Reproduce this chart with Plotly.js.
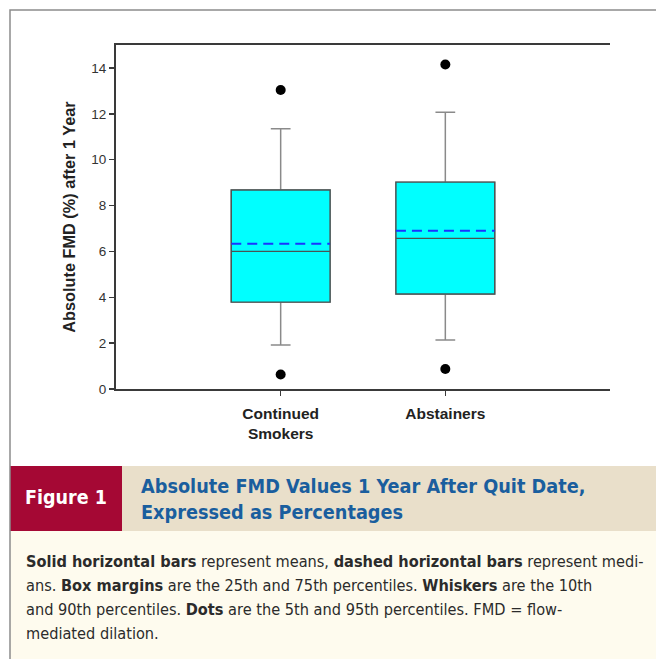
<!DOCTYPE html>
<html>
<head>
<meta charset="utf-8">
<script src="https://cdn.plot.ly/plotly-3.0.1.min.js"></script>
<style>
  html, body { margin: 0; padding: 0; background: #ffffff; }
  #chart { width: 656px; height: 659px; }
</style>
</head>
<body>
<div id="chart"></div>
<script>
// ---- data ----
const groups = ['Continued<br>Smokers', 'Abstainers'];
const q1 = [3.79, 4.14];          // 25th percentile (box bottom)
const q3 = [8.68, 9.02];          // 75th percentile (box top)
const solidBar = [6.00, 6.57];    // solid horizontal bar
const dashedBar = [6.33, 6.90];   // dashed horizontal bar
const p10 = [1.92, 2.14];         // lower whisker
const p90 = [11.35, 12.07];       // upper whisker
const p5 = [0.63, 0.87];          // lower dot
const p95 = [13.04, 14.15];       // upper dot
const yTicks = [0, 2, 4, 6, 8, 10, 12, 14];

const captionTitle = 'Absolute FMD Values 1 Year After Quit Date,<br>Expressed as Percentages';
const captionLines = [
  '<b>Solid horizontal bars</b> represent means, <b>dashed horizontal bars</b> represent medi-',
  'ans. <b>Box margins</b> are the 25th and 75th percentiles. <b>Whiskers</b> are the 10th',
  'and 90th percentiles. <b>Dots</b> are the 5th and 95th percentiles. FMD = flow-',
  'mediated dilation.'
];

// ---- layout geometry (pixels) ----
const W = 656, H = 659;
const L = 116, R = 610, T = 45, B = 389;
const xp = px => (px - L) / (R - L);
const yp = py => (B - py) / (B - T);
const pos = groups.map((g, i) => i + 1);
const BOXW = 0.6;

const traces = [];
// whiskers layer (gray)
traces.push({
  type: 'box', x: pos, q1: q1, median: solidBar, q3: q3,
  lowerfence: p10, upperfence: p90,
  width: BOXW, whiskerwidth: 0.2, boxpoints: false,
  fillcolor: '#00FFFF', line: { color: '#8a8a8a', width: 1.5 },
  hoverinfo: 'skip'
});
// box body layer (darker outline), fences collapsed onto box
traces.push({
  type: 'box', x: pos, q1: q1, median: solidBar, q3: q3,
  lowerfence: q1, upperfence: q3,
  width: BOXW, whiskerwidth: 0, boxpoints: false,
  fillcolor: '#00FFFF', line: { color: '#4a5454', width: 1.4 },
  hoverinfo: 'skip'
});
// dashed bars
const dx = [], dy = [];
pos.forEach((p, i) => { dx.push(p - BOXW / 2, p + BOXW / 2, null); dy.push(dashedBar[i], dashedBar[i], null); });
traces.push({
  type: 'scatter', mode: 'lines', x: dx, y: dy,
  line: { color: '#1a35ff', width: 2, dash: '10px,6px' }, hoverinfo: 'skip'
});
// dots
traces.push({
  type: 'scatter', mode: 'markers',
  x: pos.concat(pos), y: p5.concat(p95),
  marker: { color: '#000000', size: 10 }, hoverinfo: 'skip'
});

const shapes = [
  { type: 'rect', xref: 'paper', yref: 'paper', x0: xp(10), x1: xp(122), y0: yp(466), y1: yp(531),
    fillcolor: '#A50834', line: { width: 0 } },
  { type: 'rect', xref: 'paper', yref: 'paper', x0: xp(122), x1: xp(700), y0: yp(466), y1: yp(531),
    fillcolor: '#E9DFCA', line: { width: 0 } },
  { type: 'rect', xref: 'paper', yref: 'paper', x0: xp(10), x1: xp(700), y0: yp(531), y1: yp(700),
    fillcolor: '#FEFBEE', line: { width: 0 } },
  { type: 'rect', xref: 'paper', yref: 'paper', x0: xp(10), x1: xp(720), y0: yp(10), y1: yp(720),
    fillcolor: 'rgba(0,0,0,0)', line: { color: '#8c8c8c', width: 1.5 } }
];

const narrow = '"Liberation Sans Narrow", "Arial Narrow", "DejaVu Sans Condensed", "Roboto Condensed", "Liberation Sans", Arial, sans-serif';
const annotations = [
  { xref: 'paper', yref: 'paper', x: xp(66), y: yp(498), xanchor: 'center', yanchor: 'middle',
    text: '<b>Figure 1</b>', showarrow: false, font: { family: narrow, size: 19.5, color: '#ffffff' } },
  { xref: 'paper', yref: 'paper', x: xp(139), y: yp(500), xanchor: 'left', yanchor: 'middle', align: 'left',
    text: '<b>' + captionTitle + '</b>', showarrow: false, font: { family: narrow, size: 19.7, color: '#1A5E9E' } }
];
const lineY = [561, 585, 609, 633];
captionLines.forEach((t, i) => {
  annotations.push({ xref: 'paper', yref: 'paper', x: xp(24), y: yp(lineY[i]), xanchor: 'left', yanchor: 'middle',
    align: 'left', text: t, showarrow: false, font: { family: narrow, size: 16.2, color: '#2b2b2b' } });
});

const layout = {
  width: W, height: H,
  margin: { l: L, r: W - R, t: T, b: H - B, pad: 0 },
  paper_bgcolor: '#ffffff', plot_bgcolor: '#ffffff',
  showlegend: false, hovermode: false, boxmode: 'overlay',
  font: { family: '"Liberation Sans", Arial, sans-serif', color: '#333333' },
  xaxis: {
    range: [0, 3], tickmode: 'array', tickvals: pos,
    ticktext: groups.map(g => '<b>' + g + '</b>'),
    showgrid: false, zeroline: false, showline: true, mirror: true,
    linecolor: '#3a3a3a', linewidth: 2,
    ticks: 'outside', ticklen: 5, tickwidth: 1.5, tickcolor: '#3a3a3a',
    tickfont: { size: 15.5, color: '#222222' }, ticklabelstandoff: 4
  },
  yaxis: {
    range: [0, 15], tickmode: 'array', tickvals: yTicks,
    showgrid: false, zeroline: false, showline: true,
    linecolor: '#3a3a3a', linewidth: 2,
    ticks: 'outside', ticklen: 5, tickwidth: 1.5, tickcolor: '#3a3a3a',
    tickfont: { size: 13.5, color: '#333333' },
    title: { text: '<b>Absolute FMD (%) after 1 Year</b>', font: { size: 16.3, color: '#222222' }, standoff: 12 }
  },
  shapes: shapes, annotations: annotations
};

Plotly.newPlot('chart', traces, layout, { displayModeBar: false, staticPlot: true });
</script>
</body>
</html>
